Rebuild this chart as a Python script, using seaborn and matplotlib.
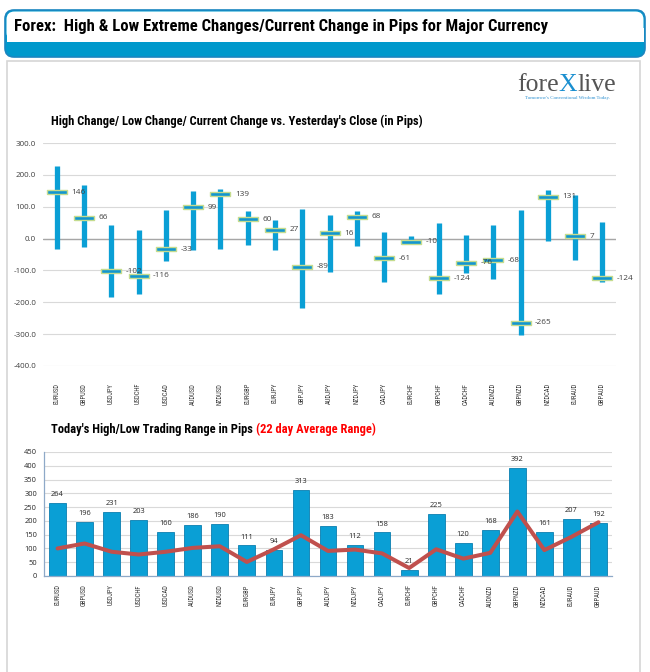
import numpy as np
import pandas as pd
import seaborn as sns
import matplotlib
matplotlib.use("Agg")
import matplotlib.pyplot as plt
import matplotlib.font_manager as fm
from matplotlib.patches import FancyBboxPatch, Rectangle
from matplotlib.ticker import FormatStrFormatter

# ---------------- data ----------------
pairs = ["EURUSD", "GBPUSD", "USDJPY", "USDCHF", "USDCAD", "AUDUSD", "NZDUSD",
         "EURGBP", "EURJPY", "GBPJPY", "AUDJPY", "NZDJPY", "CADJPY", "EURCHF",
         "GBPCHF", "CADCHF", "AUDNZD", "GBPNZD", "NZDCAD", "EURAUD", "GBPAUD"]
high_change = [229, 167, 44, 28, 91, 149, 156, 88, 58, 93, 74, 86, 20, 9,
               49, 12, 42, 91, 151, 138, 52]
low_change = [-33, -27, -184, -174, -69, -35, -32, -19, -35, -219, -106, -24, -135, -14,
              -174, -108, -127, -302, -8, -66, -137]
current_change = [146, 66, -102, -116, -33, 99, 139, 60, 27, -89, 16, 68, -61, -10,
                  -124, -76, -68, -265, 131, 7, -124]
range_today = [264, 196, 231, 203, 160, 186, 190, 111, 94, 313, 183, 112, 158, 21,
               225, 120, 168, 392, 161, 207, 192]
avg_range_22d = [100, 118, 88, 78, 88, 102, 108, 51, 97, 148, 91, 96, 82, 29,
                 97, 63, 84, 234, 94, 142, 195]
top_yticks = [-400, -300, -200, -100, 0, 100, 200, 300]
bottom_yticks = [0, 50, 100, 150, 200, 250, 300, 350, 400, 450]

# ---------------- fonts ----------------
available = {f.name for f in fm.fontManager.ttflist}
narrow_name = None
for cand in ["Liberation Sans Narrow", "Roboto Condensed", "DejaVu Sans Condensed",
             "Open Sans Condensed", "Noto Sans Condensed", "Arial Narrow"]:
    if cand in available:
        narrow_name = cand
        break
condensed_stretch = None
if narrow_name is None:
    for f in fm.fontManager.ttflist:
        if f.name == "DejaVu Sans" and str(f.stretch) in ("condensed", "semi-condensed"):
            condensed_stretch = "condensed"
            break
NARROW = [narrow_name, "DejaVu Sans"] if narrow_name else ["DejaVu Sans"]
NSTRETCH = condensed_stretch if condensed_stretch else "normal"
SANS = ["Open Sans", "DejaVu Sans"]
SERIF = ["Liberation Serif", "DejaVu Serif"]
BLUE = "#0a9fd5"
TXT = "#404040"

sns.set_style("white")
plt.rcParams["font.family"] = SANS

W, H = 650, 672
fig = plt.figure(figsize=(W / 100, H / 100), dpi=100, facecolor="white")

bg = fig.add_axes([0, 0, 1, 1], zorder=-5)
bg.set_xlim(0, W)
bg.set_ylim(H, 0)
bg.axis("off")


def right_x(t):
    fig.canvas.draw()
    bb = t.get_window_extent()
    return bg.transData.inverted().transform((bb.x1, 0))[0]


def fit_width(t, target_px):
    fig.canvas.draw()
    w = t.get_window_extent().width
    t.set_fontsize(t.get_fontsize() * target_px / w)


# header box
bg.add_patch(FancyBboxPatch((5, 10), 640, 47, boxstyle="round,pad=0,rounding_size=9",
                            facecolor="#0099cc", edgecolor="#1b86c0", lw=1.2))
bg.add_patch(FancyBboxPatch((6.5, 11.5), 637, 29, boxstyle="round,pad=0,rounding_size=8",
                            facecolor="white", edgecolor="none"))
bg.add_patch(Rectangle((6.5, 28), 637, 14, facecolor="white", edgecolor="none"))
ht = bg.text(14, 27, "Forex:  High & Low Extreme Changes/Current Change in Pips for Major Currency",
             family=NARROW, fontstretch=NSTRETCH, fontweight="bold", fontsize=11,
             va="center", ha="left", color="black")
fit_width(ht, 531)

# content panel
bg.add_patch(Rectangle((7, 61), 633, 620, facecolor="white", edgecolor="#d6d6d6", lw=1.2))

# logo
t1 = bg.text(517, 91, "fore", family=SERIF, fontsize=18.5, color="#555555",
             va="baseline", ha="left")
t2 = bg.text(right_x(t1), 91, "X", family=SERIF, fontsize=18.5, color="#1a8fd0",
             va="baseline", ha="left")
bg.text(right_x(t2), 91, "live", family=SERIF, fontsize=18.5, color="#555555",
        va="baseline", ha="left")
bg.text(567, 98, "Tomorrow's Conventional Wisdom Today.", family=SERIF,
        fontsize=3.6, color="#2a8fd0", va="center", ha="center")

# chart titles
c1 = bg.text(51, 121, "High Change/ Low Change/ Current Change vs. Yesterday's Close (in Pips)",
             family=NARROW, fontstretch=NSTRETCH, fontweight="bold", fontsize=8.3,
             va="center", ha="left", color="black")
fit_width(c1, 368)
tt = bg.text(51, 429, "Today's High/Low Trading Range in Pips ",
             family=NARROW, fontstretch=NSTRETCH, fontweight="bold", fontsize=c1.get_fontsize(),
             va="center", ha="left", color="black")
bg.text(right_x(tt), 429, "(22 day Average Range)", family=NARROW, fontstretch=NSTRETCH,
        fontweight="bold", fontsize=c1.get_fontsize(), va="center", ha="left", color="#ff0000")

tick_fs = 4.7 if narrow_name else 3.7

# ---------------- top chart ----------------
x = np.arange(len(pairs))
ax1 = fig.add_axes([43 / W, 1 - 366 / H, (616 - 43) / W, (366 - 143) / H])
ax1.set_facecolor("white")
ax1.vlines(x, low_change, high_change, color=BLUE, lw=3.8, zorder=2)
marker = [(-1, -0.24), (1, -0.24), (1, 0.24), (-1, 0.24), (-1, -0.24)]
sns.scatterplot(x=x, y=current_change, ax=ax1, marker=marker, s=195, color="#1296cf",
                edgecolor="#c5dc8f", linewidth=1.0, zorder=3, legend=False)
for xi, v in zip(x, current_change):
    ax1.annotate(f"{v}", xy=(xi, v), xytext=(10.5, 0), textcoords="offset points",
                 va="center", ha="left", fontsize=5.9, color=TXT, zorder=4)
ax1.set_xlim(-0.5, len(pairs) - 0.5)
ax1.set_ylim(top_yticks[0], top_yticks[-1])
ax1.set_yticks(top_yticks)
ax1.yaxis.set_major_formatter(FormatStrFormatter("%.1f"))
ax1.set_xticks(x)
ax1.set_xticklabels(pairs, rotation=90, family=NARROW, fontstretch=NSTRETCH,
                    fontsize=tick_fs, color="#333333")
ax1.tick_params(axis="x", length=0, pad=12)
ax1.tick_params(axis="y", length=0, pad=5, labelsize=5.8, labelcolor=TXT)
ax1.grid(axis="y", color="#d9d9d9", lw=0.8)
ax1.set_axisbelow(True)
ax1.axhline(0, color="#a6a6a6", lw=1.0, zorder=1)
for s in ax1.spines.values():
    s.set_visible(False)
ax1.set_xlabel("")
ax1.set_ylabel("")

# ---------------- bottom chart ----------------
ax2 = fig.add_axes([44 / W, 1 - 576 / H, (612 - 44) / W, (576 - 452) / H])
ax2.set_facecolor("white")
df = pd.DataFrame({"pair": pairs, "range": range_today, "avg": avg_range_22d})
sns.barplot(data=df, x="pair", y="range", ax=ax2, color=BLUE, saturation=1, width=0.62,
            edgecolor="#0b7fb0", linewidth=0.6, zorder=2)
ax2.bar_label(ax2.containers[0], padding=3.5, fontsize=5.4, color="#262626")
sns.lineplot(x=x, y=avg_range_22d, ax=ax2, color="#c0504d", lw=2.9, sort=False, zorder=3)
ax2.set_xlim(-0.5, len(pairs) - 0.5)
ax2.set_ylim(bottom_yticks[0], bottom_yticks[-1])
ax2.set_yticks(bottom_yticks)
ax2.set_xticks(x)
ax2.set_xticklabels(pairs, rotation=90, family=NARROW, fontstretch=NSTRETCH,
                    fontsize=tick_fs, color="#333333")
ax2.set_xticks(np.arange(-0.5, len(pairs), 1), minor=True)
ax2.tick_params(axis="x", which="major", length=0, pad=6)
ax2.tick_params(axis="x", which="minor", length=3.5, color="#8ea9c8", width=0.8)
ax2.tick_params(axis="y", length=3, color="#8ea9c8", width=0.8, pad=2,
                labelsize=5.4, labelcolor="#262626")
ax2.grid(axis="y", color="#d9d9d9", lw=0.8)
ax2.set_axisbelow(True)
for side in ["top", "right"]:
    ax2.spines[side].set_visible(False)
for side in ["left", "bottom"]:
    ax2.spines[side].set_color("#8ea9c8")
    ax2.spines[side].set_linewidth(0.9)
ax2.set_xlabel("")
ax2.set_ylabel("")

fig.savefig("out.png", dpi=100, facecolor="white")
